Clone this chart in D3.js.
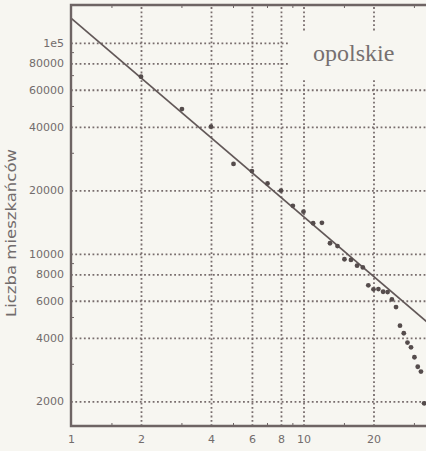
<!DOCTYPE html>
<html>
<head>
<meta charset="utf-8">
<script src="https://cdn.jsdelivr.net/npm/d3@7"></script>
<style>
  html, body { margin: 0; padding: 0; background: #f7f6f1; }
  svg { display: block; }
</style>
</head>
<body>
<svg id="chart" width="426" height="451"></svg>
<script>
// Town rank (x) against population (y), opolskie voivodeship, log–log
const ranks = [2, 3, 4, 5, 6, 7, 8, 9, 10, 11, 12, 13, 14, 15, 16, 17,
               18, 19, 20, 21, 22, 23, 24, 25, 26, 27, 28, 29, 30, 31, 32, 33];
const populations = [69200, 48600, 40100, 26700, 24700, 21600, 19960,
                     16900, 15860, 13980, 14050, 11240, 10900, 9440, 9370, 8800,
                     8630, 7100, 6800, 6820, 6620, 6600, 6090, 5600, 4570, 4210,
                     3800, 3610, 3240, 2920, 2770, 1960];

// Power-law fit: population = fitCoef * rank^fitExp
const fitCoef = 131000;
const fitExp = -0.94;
const fitRanks = [1, 40];

const xTicks = [1, 2, 4, 6, 8, 10, 20];
const xTickLabels = ["1", "2", "4", "6", "8", "10", "20"];
const xMinorTicks = [1.5, 3, 5, 7, 9, 15, 30];
const yTicks = [2000, 4000, 6000, 8000, 10000, 20000, 40000, 60000, 80000, 100000];
const yTickLabels = ["2000", "4000", "6000", "8000", "10000", "20000", "40000", "60000", "80000", "1e5"];
const yMinorTicks = [3000, 5000, 7000, 9000, 30000, 50000, 70000, 90000];

const regionLabel = "opolskie";
const yTitle = "Liczba mieszkańców";

const svg = d3.select("#chart");
const W = 426, H = 451;
const bg = "#f7f6f1";
const axisColor = "#6e6464";
const gridColor = "#786d6d";
const textColor = "#726c6c";
const markColor = "#554c4c";

const plotLeft = 71, plotTop = 5, plotBottom = 426;

const x = d3.scaleLog().domain([1, 40]).range([plotLeft, plotLeft + 232.5 * Math.log10(40)]);
const y = d3.scaleLog().domain([1500, 150000]).range([427.8, 5.8]);

svg.append("rect").attr("width", W).attr("height", H).attr("fill", bg);

const plot = svg.append("g");

// dotted grid
const gridX = plot.append("g")
  .attr("transform", `translate(0,${plotBottom})`)
  .call(d3.axisBottom(x).tickValues(xTicks.filter(v => v > 1)).tickSize(-(plotBottom - plotTop)).tickFormat(""));
const gridY = plot.append("g")
  .attr("transform", `translate(${plotLeft},0)`)
  .call(d3.axisLeft(y).tickValues(yTicks).tickSize(-(W - plotLeft + 20)).tickFormat(""));
[gridX, gridY].forEach(g => {
  g.select(".domain").remove();
  g.selectAll("line")
    .attr("stroke", gridColor)
    .attr("stroke-width", 1.8)
    .attr("stroke-dasharray", "1.8,2.5");
});

// blank panel behind the region name
plot.append("rect")
  .attr("x", 288).attr("y", 33)
  .attr("width", W - 288 + 10).attr("height", 45)
  .attr("fill", bg);

plot.append("text")
  .attr("x", 313).attr("y", 61)
  .attr("font-family", "'Liberation Serif', 'Times New Roman', serif")
  .attr("font-size", 24)
  .attr("fill", "#767070")
  .text(regionLabel);

// fit line
const line = d3.line().x(d => x(d)).y(d => y(fitCoef * Math.pow(d, fitExp)));
plot.append("path")
  .datum(fitRanks)
  .attr("d", line)
  .attr("fill", "none")
  .attr("stroke", "#625858")
  .attr("stroke-width", 1.7);

// frame: left and bottom axes with labels
const xAxis = svg.append("g")
  .attr("transform", `translate(0,${plotBottom})`)
  .call(d3.axisBottom(x).tickValues(xTicks).tickSize(0).tickPadding(9)
    .tickFormat((d, i) => xTickLabels[i]));
const yAxis = svg.append("g")
  .attr("transform", `translate(${plotLeft},0)`)
  .call(d3.axisLeft(y).tickValues(yTicks).tickSize(0).tickPadding(7)
    .tickFormat((d, i) => yTickLabels[i]));
[xAxis, yAxis].forEach(g => {
  g.select(".domain").remove();
  g.selectAll("text")
    .attr("font-family", "'DejaVu Sans', sans-serif")
    .attr("font-size", 11)
    .attr("fill", textColor);
});

// minor ticks pointing inward
svg.append("g").selectAll("line").data(xMinorTicks).join("line")
  .attr("x1", d => x(d)).attr("x2", d => x(d))
  .attr("y1", plotBottom).attr("y2", plotBottom - 3)
  .attr("stroke", axisColor).attr("stroke-width", 1);
svg.append("g").selectAll("line").data(xMinorTicks).join("line")
  .attr("x1", d => x(d)).attr("x2", d => x(d))
  .attr("y1", plotTop).attr("y2", plotTop + 3)
  .attr("stroke", axisColor).attr("stroke-width", 1);
svg.append("g").selectAll("line").data(yMinorTicks).join("line")
  .attr("x1", plotLeft).attr("x2", plotLeft + 3)
  .attr("y1", d => y(d)).attr("y2", d => y(d))
  .attr("stroke", axisColor).attr("stroke-width", 1);

svg.append("path")
  .attr("d", `M${W + 5},${plotTop}H${plotLeft}V${plotBottom}H${W + 5}`)
  .attr("fill", "none")
  .attr("stroke", axisColor)
  .attr("stroke-width", 2.4);

// data points
svg.append("g").selectAll("circle")
  .data(ranks.map((r, i) => [r, populations[i]]))
  .join("circle")
  .attr("cx", d => x(d[0]))
  .attr("cy", d => y(d[1]))
  .attr("r", 2.4)
  .attr("fill", markColor);

// y title
svg.append("text")
  .attr("transform", "translate(16,233) rotate(-90)")
  .attr("text-anchor", "middle")
  .attr("font-family", "'DejaVu Sans', sans-serif")
  .attr("font-size", 13.5)
  .attr("textLength", 168)
  .attr("lengthAdjust", "spacingAndGlyphs")
  .attr("fill", textColor)
  .text(yTitle);
</script>
</body>
</html>
